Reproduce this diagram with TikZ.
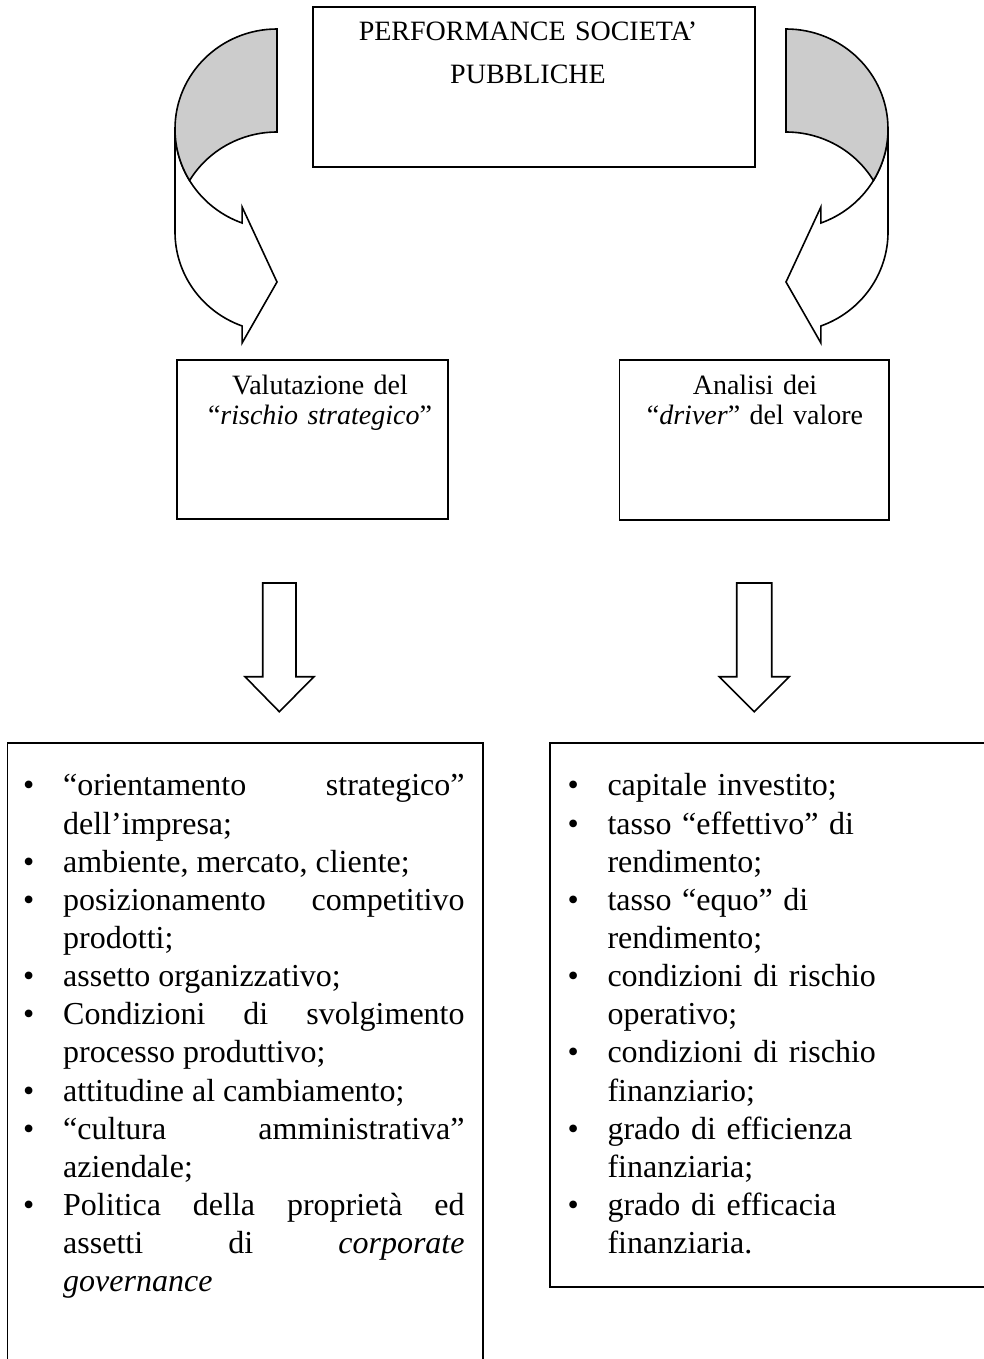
\documentclass[tikz,border=0pt]{standalone}
\usepackage{fontspec}
\setmainfont{Liberation Serif}
\usetikzlibrary{calc}
\tolerance=10000
\hbadness=10000
\hyphenpenalty=10000
\newcommand{\voce}[1]{\par\noindent\llap{\makebox[15pt][l]{\textbullet}}\strut#1}
\tikzset{
	riquadro/.style={draw,line width=0.6pt},
	freccia/.style={draw,line width=0.6pt,fill=white,line join=miter},
	ombra/.style={draw,line width=0.6pt,fill=black!20},
	titolo/.style={inner sep=0pt,anchor=north,align=center,text width=170pt},
	elenco/.style={inner sep=0pt,anchor=north west,font=\fontsize{12}{14.3}\selectfont}
}
\begin{document}
\begin{tikzpicture}[x=0.375pt,y=-0.375pt]
	\useasboundingbox (0,0) rectangle (983,1359);
	% riquadri
	\draw[riquadro](313,7) rectangle (755,167);
	\draw[riquadro](176.7,360) rectangle (448,519);
	\draw[riquadro](619.3,360) rectangle (889,520);
	\draw[riquadro](7.5,1365)--(7.5,743)--(483,743)--(483,1365);
	\draw[riquadro](990,743)--(550,743)--(550,1287)--(990,1287);
	% frecce curve
	\draw[freccia](175,129)--(175,232) arc[start angle=180,end angle=110,x radius=102,y radius=100]--(242.1,343)--(277,282)--(242.1,207)--(242.1,223) arc[start angle=110,end angle=180,x radius=102,y radius=100]--cycle;
	\draw[ombra](277,29) arc[start angle=270,end angle=180,x radius=102,y radius=100] arc[start angle=180,end angle=149,x radius=102,y radius=100] arc[start angle=211,end angle=270,x radius=102,y radius=100]--cycle;
	\draw[freccia](888,129)--(888,232) arc[start angle=0,end angle=70,x radius=102,y radius=100]--(820.9,343)--(786,282)--(820.9,207)--(820.9,223) arc[start angle=70,end angle=0,x radius=102,y radius=100]--cycle;
	\draw[ombra](786,29) arc[start angle=-90,end angle=0,x radius=102,y radius=100] arc[start angle=0,end angle=31,x radius=102,y radius=100] arc[start angle=-31,end angle=-90,x radius=102,y radius=100]--cycle;
	% frecce verso il basso
	\draw[freccia](262.7,583)--(296,583)--(296,676.7)--(314,676.7)--(279.3,711.7)--(245,676.7)--(262.7,676.7)--cycle;
	\draw[freccia](736.7,583)--(771.7,583)--(771.7,676.7)--(789.3,676.7)--(754.3,711.7)--(719.3,676.7)--(736.7,676.7)--cycle;
	% testi
	\node[titolo,font=\fontsize{10.5}{16}\selectfont] (perf) at (528,10) {\strut PERFORMANCE SOCIETA’\\PUBBLICHE};
	\node[titolo,font=\fontsize{10.5}{11.25}\selectfont] (rischio) at (320,373) {\strut Valutazione del\\“\textit{rischio strategico}”};
	\node[titolo,font=\fontsize{10.5}{11.25}\selectfont] (driver) at (755,373) {\strut Analisi dei\\“\textit{driver}” del valore};
	\node[elenco,text width=150.5pt,align=justify] (fattori) at (62.7,757.3) {%
		\voce{“orientamento strategico”\linebreak dell’impresa;}
		\voce{ambiente, mercato, cliente;}
		\voce{posizionamento competitivo\linebreak prodotti;}
		\voce{assetto organizzativo;}
		\voce{Condizioni di svolgimento\linebreak processo produttivo;}
		\voce{attitudine al cambiamento;}
		\voce{“cultura amministrativa”\linebreak aziendale;}
		\voce{Politica della proprietà ed\linebreak assetti di \textit{corporate}\linebreak \textit{governance}}};
	\node[elenco,text width=140pt,align=left] (valore) at (607,757.3) {%
		\voce{capitale investito;}
		\voce{tasso “effettivo” di\break rendimento;}
		\voce{tasso “equo” di\break rendimento;}
		\voce{condizioni di rischio\break operativo;}
		\voce{condizioni di rischio\break finanziario;}
		\voce{grado di efficienza\break finanziaria;}
		\voce{grado di efficacia\break finanziaria.}};
\end{tikzpicture}
\end{document}
